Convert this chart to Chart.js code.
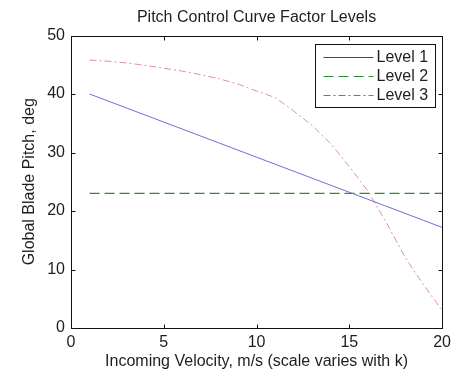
<!DOCTYPE html>
<html>
<head>
<meta charset="utf-8">
<script src="https://cdn.jsdelivr.net/npm/chart.js@4/dist/chart.umd.min.js"></script>
<style>
  html, body { margin: 0; padding: 0; background: #ffffff; }
  #wrap { width: 456px; height: 370px; }
</style>
</head>
<body>
<div id="wrap"><canvas id="c" width="456" height="370"></canvas></div>
<script>
// Incoming velocity samples (m/s)
const velocity = [1, 2, 3, 4, 5, 6, 7, 8, 9, 10, 11, 12, 13, 14, 15, 16, 17, 18, 19, 20];
// Global blade pitch (deg) for each factor level
const level1 = [40.0, 38.8, 37.6, 36.4, 35.2, 34.0, 32.8, 31.6, 30.4, 29.2, 28.0, 26.8, 25.6, 24.4, 23.2, 22.0, 20.8, 19.6, 18.4, 17.2];
const level2 = [23, 23, 23, 23, 23, 23, 23, 23, 23, 23, 23, 23, 23, 23, 23, 23, 23, 23, 23, 23];
const level3 = [45.8, 45.6, 45.3, 44.9, 44.4, 43.9, 43.3, 42.6, 41.7, 40.5, 39.4, 37.1, 34.6, 31.5, 27.6, 23.4, 18.0, 12.1, 7.4, 3.0];
const seriesNames = ['Level 1', 'Level 2', 'Level 3'];
const xTicks = [0, 5, 10, 15, 20];
const yTicks = [0, 10, 20, 30, 40, 50];

const FONT = '"Liberation Sans", Arial, Helvetica, sans-serif';
const TEXT = '#1e1e1e';

function points(ys) {
  return velocity.map((v, i) => ({ x: v, y: ys[i] }));
}

// Box around the plot with short inward tick marks on all four sides
const framePlugin = {
  id: 'frame',
  afterDatasetsDraw(chart) {
    const { ctx, chartArea: a, scales } = chart;
    ctx.save();
    ctx.strokeStyle = '#111';
    ctx.lineWidth = 1;
    ctx.setLineDash([]);
    const L = Math.round(a.left) + 0.5, R = Math.round(a.right) + 0.5;
    const T = Math.round(a.top) + 0.5, B = Math.round(a.bottom) + 0.5;
    ctx.strokeRect(L, T, R - L, B - T);
    const len = 4;
    ctx.beginPath();
    xTicks.slice(1, -1).forEach(v => {
      const x = Math.round(scales.x.getPixelForValue(v)) + 0.5;
      ctx.moveTo(x, B); ctx.lineTo(x, B - len);
      ctx.moveTo(x, T); ctx.lineTo(x, T + len);
    });
    yTicks.slice(1, -1).forEach(v => {
      const y = Math.round(scales.y.getPixelForValue(v)) + 0.5;
      ctx.moveTo(L, y); ctx.lineTo(L + len, y);
      ctx.moveTo(R, y); ctx.lineTo(R - len, y);
    });
    ctx.stroke();
    ctx.restore();
  }
};

// Boxed legend in the upper-right corner of the plot
const boxLegendPlugin = {
  id: 'boxLegend',
  afterDraw(chart) {
    const { ctx, chartArea: a } = chart;
    const w = 120, h = 63;
    const left = Math.round(a.right - 7 - w) + 0.5;
    const top = Math.round(a.top + 8.5) + 0.5;
    ctx.save();
    ctx.fillStyle = '#ffffff';
    ctx.fillRect(left, top, w, h);
    ctx.strokeStyle = '#111';
    ctx.lineWidth = 1;
    ctx.setLineDash([]);
    ctx.strokeRect(left, top, w, h);
    ctx.font = '16px ' + FONT;
    ctx.textBaseline = 'middle';
    ctx.textAlign = 'left';
    chart.data.datasets.forEach((ds, i) => {
      const y = Math.round(top + 12.5 + i * 19) + 0.5;
      ctx.strokeStyle = ds.legendColor;
      ctx.lineWidth = 1;
      ctx.setLineDash(ds.borderDash || []);
      ctx.beginPath();
      ctx.moveTo(left + 8, y);
      ctx.lineTo(left + 58, y);
      ctx.stroke();
      ctx.fillStyle = TEXT;
      ctx.fillText(ds.label, left + 61, y + 0.5);
    });
    ctx.restore();
  }
};

new Chart(document.getElementById('c'), {
  type: 'line',
  data: {
    datasets: [
      {
        label: seriesNames[0],
        data: points(level1),
        borderColor: '#6f6fd6',
        legendColor: '#3a3ab0',
        borderWidth: 1,
        pointRadius: 0,
        tension: 0
      },
      {
        label: seriesNames[1],
        data: points(level2),
        borderColor: '#2f8a2f',
        legendColor: '#2f8a2f',
        borderWidth: 1.2,
        borderDash: [10, 5],
        pointRadius: 0,
        tension: 0
      },
      {
        label: seriesNames[2],
        data: points(level3),
        borderColor: '#e0909c',
        legendColor: '#c2506a',
        borderWidth: 1,
        borderDash: [7, 3, 2, 3],
        pointRadius: 0,
        tension: 0
      }
    ]
  },
  options: {
    responsive: false,
    animation: false,
    devicePixelRatio: 1,
    layout: { padding: { left: 0, right: 12, top: 0, bottom: 0 } },
    plugins: {
      legend: { display: false },
      tooltip: { enabled: false },
      title: {
        display: true,
        fullSize: false,
        text: 'Pitch Control Curve Factor Levels',
        color: TEXT,
        font: { family: FONT, size: 16, weight: 'normal', lineHeight: 1.2 },
        padding: { top: 8, bottom: 8.3 }
      }
    },
    scales: {
      x: {
        type: 'linear',
        min: 0,
        max: 20,
        afterBuildTicks: s => { s.ticks = xTicks.map(v => ({ value: v })); },
        afterFit: s => { s.height = 42; },
        grid: { display: false, drawTicks: false },
        border: { display: false },
        ticks: {
          color: TEXT,
          padding: 5,
          maxRotation: 0,
          font: { family: FONT, size: 16 }
        },
        title: {
          display: true,
          text: 'Incoming Velocity, m/s (scale varies with k)',
          color: TEXT,
          font: { family: FONT, size: 16, lineHeight: 1 },
          padding: { top: 0, bottom: 0 }
        }
      },
      y: {
        type: 'linear',
        min: 0,
        max: 50,
        afterBuildTicks: s => { s.ticks = yTicks.map(v => ({ value: v })); },
        afterFit: s => { s.width = 71; },
        grid: { display: false, drawTicks: false },
        border: { display: false },
        ticks: {
          color: TEXT,
          padding: 6,
          font: { family: FONT, size: 16 }
        },
        title: {
          display: true,
          text: 'Global Blade Pitch, deg',
          color: TEXT,
          font: { family: FONT, size: 16, lineHeight: 1 },
          padding: { top: 22, bottom: 0 }
        }
      }
    }
  },
  plugins: [framePlugin, boxLegendPlugin]
});
</script>
</body>
</html>
